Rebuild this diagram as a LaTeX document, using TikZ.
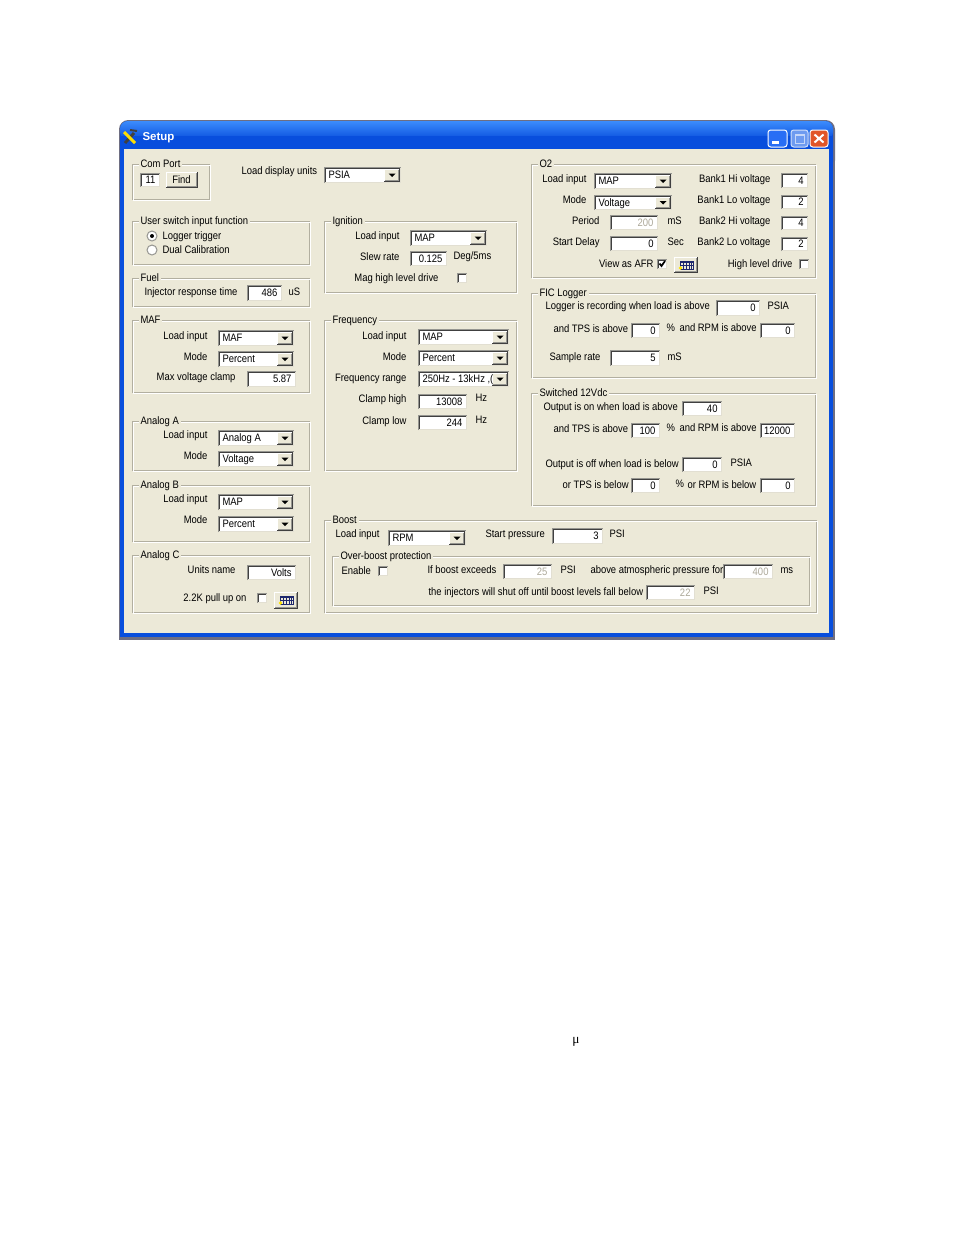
\documentclass[tikz,border=0pt]{standalone}
\usepackage{fontspec}
\setmainfont{Liberation Sans}[FakeStretch=0.875]
\newfontfamily\titlefont{Liberation Sans}
\newfontfamily\mufont{Liberation Serif}
\definecolor{cFace}{RGB}{236,233,216}
\definecolor{cShadow}{RGB}{150,150,145}
\definecolor{cDkShadow}{RGB}{64,64,64}
\definecolor{cLight}{RGB}{226,223,210}
\definecolor{cEtch}{RGB}{178,175,160}
\definecolor{cDis}{RGB}{172,168,153}
\definecolor{cBlue}{RGB}{8,78,221}
\definecolor{cBlueTop}{RGB}{60,140,252}
\definecolor{cOutline}{RGB}{110,110,130}
\definecolor{cBtn}{RGB}{40,110,245}
\definecolor{cBtnDis}{RGB}{110,155,240}
\definecolor{cClose}{RGB}{225,85,40}
\definecolor{cGridC}{RGB}{30,40,110}
\tikzset{
  lbl/.style={font=\fontsize{8.1}{9}\selectfont, inner sep=0pt, text height=5.8pt, text depth=0pt},
  grouptitle/.style={lbl, fill=cFace, inner xsep=1.5pt, inner ysep=1pt, anchor=west},
  dislbl/.style={lbl, text=cDis}
}
\newcommand{\uiSunken}[4]{%
  \fill[white] (#1,#2) rectangle (#3,#4);
  \draw[cShadow] (#1,#4) -- (#1,#2) -- (#3,#2);
  \draw[cDkShadow] (#1+1,#4-1) -- (#1+1,#2+1) -- (#3-1,#2+1);
  \draw[cLight] (#1+1,#4-1) -- (#3-1,#4-1) -- (#3-1,#2+1);
}
\newcommand{\uiRaised}[4]{%
  \fill[cFace] (#1,#2) rectangle (#3,#4);
  \draw[white] (#1,#4) -- (#1,#2) -- (#3,#2);
  \draw[cShadow] (#1+1,#4-1) -- (#3-1,#4-1) -- (#3-1,#2+1);
  \draw[cDkShadow] (#1,#4) -- (#3,#4) -- (#3,#2);
}
\newcommand{\uiText}[6]{%
  \uiSunken{#1}{#2}{#3}{#4}
  \node[lbl, anchor=east] (#6) at (#3-4,{(#2+#4)/2}) {#5};
}
\newcommand{\uiTextDis}[6]{%
  \uiSunken{#1}{#2}{#3}{#4}
  \node[dislbl, anchor=east] (#6) at (#3-4,{(#2+#4)/2}) {#5};
}
\newcommand{\uiCombo}[6]{%
  \uiSunken{#1}{#2}{#3}{#4}
  \uiRaised{#3-17}{#2+2}{#3-2}{#4-2}
  \fill[black] (#3-12.5,{(#2+#4)/2-1.5}) -- ++(7,0) -- ++(-3.5,3.5) -- cycle;
  \node[lbl, anchor=west] (#6) at (#1+4,{(#2+#4)/2}) {#5};
}
\newcommand{\uiButton}[6]{%
  \uiRaised{#1}{#2}{#3}{#4}
  \node[lbl] (#6) at ({(#1+#3)/2},{(#2+#4)/2}) {#5};
}
\newcommand{\uiCheck}[2]{%
  \uiSunken{#1}{#2}{#1+10}{#2+10}
}
\newcommand{\uiGrid}[4]{%
  \uiRaised{#1}{#2}{#3}{#4}
  \draw[cGridC, line width=0.6pt] (#1+6,#2+4) rectangle (#1+19,#2+12);
  \fill[cGridC] (#1+6,#2+4) rectangle (#1+19,#2+5.5);
  \foreach \k in {3,6,9,11} {\draw[cGridC, line width=0.6pt] (#1+6+\k,#2+4) -- (#1+6+\k,#2+12);}
  \draw[cGridC, line width=0.6pt] (#1+6,#2+8) -- (#1+19,#2+8);
  \fill[yellow!85!orange] (#1+6.5,#2+11) circle[radius=1.8];
}
\newcommand{\uiGroup}[6]{%
  \draw[cEtch] (#1,#2) rectangle (#3-1,#4-1);
  \draw[white] (#1+1,#2+1) rectangle (#3,#4);
  \node[grouptitle] (#6) at (#1+6,#2) {#5};
}
\begin{document}
\begin{tikzpicture}[x=0.75pt,y=-0.75pt,line width=0.75pt]
\useasboundingbox (0,0) rectangle (954,1235);
\fill[white] (0,0) rectangle (954,1235);
% window frame
\fill[cOutline,rounded corners=7] (119,120) rectangle (835,170);
\fill[cOutline] (119,150) rectangle (835,640);
\fill[cBlue,rounded corners=6] (120,121) rectangle (833,170);
\fill[cBlue] (120,150) rectangle (833,637);
\shade[top color=cBlueTop, bottom color=cBlue, rounded corners=6] (120,121) rectangle (833,140);
\fill[cBlue] (120,136) rectangle (833,149);
\fill[cFace] (124,149) rectangle (829,633);
% title
\draw[line width=2.2pt, cDkShadow] (125,143) -- (134,133);
\draw[line width=2.2pt, yellow!80!orange] (124,132) -- (135,143);
\draw[line width=1.5pt, cDkShadow] (130,130) -- (137,131);
\node[font={\titlefont\fontsize{8.6}{10}\selectfont\bfseries}, text=white, anchor=west, inner sep=0pt] (title) at (142,137.5) {Setup};
\draw[white, fill=cBtn, rounded corners=2] (768,130) rectangle (787,147);
\fill[white] (772,140.5) rectangle (779,143.5);
\draw[white!70!cBtnDis, fill=cBtnDis, rounded corners=2] (791,130) rectangle (808,147);
\draw[white!60!cBtnDis] (795,134) rectangle (804,143);
\draw[white!60!cBtnDis, line width=1.5pt] (795,134.5) -- (804,134.5);
\draw[white, fill=cClose, rounded corners=2] (810,130) rectangle (828,147);
\draw[white, line width=1.5pt] (814.5,134.5) -- (823.5,142.5) (823.5,134.5) -- (814.5,142.5);

% ---- left column ----
\uiGroup{132}{164}{210}{200}{Com Port}{gCom}
\uiText{140}{173}{160}{187}{11}{tCom}
\uiButton{166}{172}{197}{187}{Find}{bFind}
\node[lbl, anchor=west] (lUnits) at (241,171) {Load display units};
\uiCombo{324}{167}{401}{183}{PSIA}{cUnits}

\uiGroup{132}{221}{310}{265}{User switch input function}{gSwitch}
\fill[white] (152,236) circle[radius=5];
\draw[cShadow] (152,236) circle[radius=5];
\fill[black] (152,236) circle[radius=2];
\node[lbl, anchor=west] (rLogger) at (162,236) {Logger trigger};
\fill[white] (152,250) circle[radius=5];
\draw[cShadow] (152,250) circle[radius=5];
\node[lbl, anchor=west] (rDual) at (162,250) {Dual Calibration};

\uiGroup{132}{278}{310}{307}{Fuel}{gFuel}
\node[lbl, anchor=west] (lInj) at (144,292) {Injector response time};
\uiText{247}{285}{282}{301}{486}{tInj}
\node[lbl, anchor=west] (lInjU) at (288,292) {uS};

\uiGroup{132}{320}{310}{393}{MAF}{gMAF}
\node[lbl, anchor=east] (lMafLoad) at (208,336) {Load input};
\uiCombo{218}{330}{294}{346}{MAF}{cMafLoad}
\node[lbl, anchor=east] (lMafMode) at (208,357) {Mode};
\uiCombo{218}{351}{294}{367}{Percent}{cMafMode}
\node[lbl, anchor=east] (lMafClamp) at (236,377) {Max voltage clamp};
\uiText{247}{371}{296}{387}{5.87}{tMafClamp}

\uiGroup{132}{421}{310}{471}{Analog A}{gAA}
\node[lbl, anchor=east] (lAALoad) at (208,435) {Load input};
\uiCombo{218}{430}{294}{446}{Analog A}{cAALoad}
\node[lbl, anchor=east] (lAAMode) at (208,456) {Mode};
\uiCombo{218}{451}{294}{467}{Voltage}{cAAMode}

\uiGroup{132}{485}{310}{542}{Analog B}{gAB}
\node[lbl, anchor=east] (lABLoad) at (208,499) {Load input};
\uiCombo{218}{494}{294}{510}{MAP}{cABLoad}
\node[lbl, anchor=east] (lABMode) at (208,520) {Mode};
\uiCombo{218}{516}{294}{532}{Percent}{cABMode}

\uiGroup{132}{555}{310}{613}{Analog C}{gAC}
\node[lbl, anchor=east] (lACUnits) at (236,570) {Units name};
\uiText{247}{565}{296}{580}{Volts}{tACUnits}
\node[lbl, anchor=east] (lACPull) at (247,598) {2.2K pull up on};
\uiCheck{257}{593}
\uiGrid{274}{592}{297}{608}

% ---- middle column ----
\uiGroup{324}{221}{517}{293}{Ignition}{gIgn}
\node[lbl, anchor=east] (lIgnLoad) at (400,236) {Load input};
\uiCombo{410}{230}{487}{246}{MAP}{cIgnLoad}
\node[lbl, anchor=east] (lSlew) at (400,257) {Slew rate};
\uiText{410}{251}{447}{266}{0.125}{tSlew}
\node[lbl, anchor=west] (lSlewU) at (453,256) {Deg/5ms};
\node[lbl, anchor=east] (lMag) at (439,278) {Mag high level drive};
\uiCheck{457}{273}

\uiGroup{324}{320}{517}{471}{Frequency}{gFreq}
\node[lbl, anchor=east] (lFqLoad) at (407,336) {Load input};
\uiCombo{418}{329}{509}{345}{MAP}{cFqLoad}
\node[lbl, anchor=east] (lFqMode) at (407,357) {Mode};
\uiCombo{418}{350}{509}{366}{Percent}{cFqMode}
\node[lbl, anchor=east] (lFqRange) at (407,378) {Frequency range};
\uiCombo{418}{371}{509}{387}{250Hz - 13kHz ,(}{cFqRange}
\node[lbl, anchor=east] (lFqHigh) at (407,399) {Clamp high};
\uiText{418}{394}{467}{409}{13008}{tFqHigh}
\node[lbl, anchor=west] (lFqHighU) at (475,398) {Hz};
\node[lbl, anchor=east] (lFqLow) at (407,421) {Clamp low};
\uiText{418}{415}{467}{430}{244}{tFqLow}
\node[lbl, anchor=west] (lFqLowU) at (475,420) {Hz};

% ---- right column ----
\uiGroup{531}{164}{816}{278}{O2}{gO2}
\node[lbl, anchor=east] (lO2Load) at (587,179) {Load input};
\uiCombo{594}{173}{672}{189}{MAP}{cO2Load}
\node[lbl, anchor=east] (lO2Mode) at (587,200) {Mode};
\uiCombo{594}{195}{672}{210}{Voltage}{cO2Mode}
\node[lbl, anchor=east] (lPeriod) at (600,221) {Period};
\uiTextDis{610}{215}{658}{230}{200}{tPeriod}
\node[lbl, anchor=west] (lPeriodU) at (667,221) {mS};
\node[lbl, anchor=east] (lDelay) at (600,242) {Start Delay};
\uiText{610}{236}{658}{251}{0}{tDelay}
\node[lbl, anchor=west] (lDelayU) at (667,242) {Sec};
\node[lbl, anchor=east] (lB1H) at (771,179) {Bank1 Hi voltage};
\uiText{781}{173}{808}{188}{4}{tB1H}
\node[lbl, anchor=east] (lB1L) at (771,200) {Bank1 Lo voltage};
\uiText{781}{195}{808}{209}{2}{tB1L}
\node[lbl, anchor=east] (lB2H) at (771,221) {Bank2 Hi voltage};
\uiText{781}{216}{808}{230}{4}{tB2H}
\node[lbl, anchor=east] (lB2L) at (771,242) {Bank2 Lo voltage};
\uiText{781}{237}{808}{251}{2}{tB2L}
\node[lbl, anchor=east] (lAFR) at (654,264) {View as AFR};
\uiCheck{657}{259}
\draw[black, line width=1.3pt] (659.5,263.5) -- (661.5,266) -- (665,261);
\uiGrid{674}{257}{697}{272}
\node[lbl, anchor=east] (lHigh) at (793,264) {High level drive};
\uiCheck{799}{259}

\uiGroup{531}{293}{816}{378}{FIC Logger}{gFIC}
\node[lbl, anchor=west] (lRec) at (545,306) {Logger is recording when load is above};
\uiText{716}{300}{760}{316}{0}{tRec}
\node[lbl, anchor=west] (lRecU) at (767,306) {PSIA};
\node[lbl, anchor=west] (lFTps) at (553,329) {and TPS is above};
\uiText{631}{323}{660}{338}{0}{tFTps}
\node[lbl, anchor=west] (lFPct) at (666,328) {\%};
\node[lbl, anchor=west] (lFRpm) at (679,328) {and RPM is above};
\uiText{760}{323}{795}{338}{0}{tFRpm}
\node[lbl, anchor=west] (lSample) at (549,357) {Sample rate};
\uiText{610}{350}{660}{366}{5}{tSample}
\node[lbl, anchor=west] (lSampleU) at (667,357) {mS};

\uiGroup{531}{393}{816}{506}{Switched 12Vdc}{gSw}
\node[lbl, anchor=west] (lOn) at (543,407) {Output is on when load is above};
\uiText{682}{401}{722}{416}{40}{tOn}
\node[lbl, anchor=west] (lSTps) at (553,429) {and TPS is above};
\uiText{631}{423}{660}{438}{100}{tSTps}
\node[lbl, anchor=west] (lSPct) at (666,428) {\%};
\node[lbl, anchor=west] (lSRpm) at (679,428) {and RPM is above};
\uiText{760}{423}{795}{438}{12000}{tSRpm}
\node[lbl, anchor=west] (lOff) at (545,464) {Output is off when load is below};
\uiText{682}{457}{722}{472}{0}{tOff}
\node[lbl, anchor=west] (lOffU) at (730,463) {PSIA};
\node[lbl, anchor=west] (lOTps) at (562,485) {or TPS is below};
\uiText{631}{478}{660}{493}{0}{tOTps}
\node[lbl, anchor=west] (lOPct) at (675,484) {\%};
\node[lbl, anchor=west] (lORpm) at (687,485) {or RPM is below};
\uiText{760}{478}{795}{493}{0}{tORpm}

% ---- boost ----
\uiGroup{324}{520}{817}{613}{Boost}{gBoost}
\node[lbl, anchor=west] (lBLoad) at (335,534) {Load input};
\uiCombo{388}{530}{466}{546}{RPM}{cBLoad}
\node[lbl, anchor=west] (lStart) at (485,534) {Start pressure};
\uiText{552}{528}{603}{544}{3}{tStart}
\node[lbl, anchor=west] (lStartU) at (609,534) {PSI};
\uiGroup{332}{556}{810}{606}{Over-boost protection}{gOver}
\node[lbl, anchor=west] (lEnable) at (341,571) {Enable};
\uiCheck{378}{566}
\node[lbl, anchor=west] (lExceed) at (427,570) {If boost exceeds};
\uiTextDis{503}{564}{552}{579}{25}{tExceed}
\node[lbl, anchor=west] (lExceedU) at (560,570) {PSI};
\node[lbl, anchor=west] (lAtm) at (590,570) {above atmospheric pressure for};
\uiTextDis{723}{564}{773}{579}{400}{tAtm}
\node[lbl, anchor=west] (lAtmU) at (780,570) {ms};
\node[lbl, anchor=west] (lInjOff) at (428,592) {the injectors will shut off until boost levels fall below};
\uiTextDis{646}{585}{695}{600}{22}{tFall}
\node[lbl, anchor=west] (lFallU) at (703,591) {PSI};

% stray symbol below
\node[font={\mufont\fontsize{10}{12}\selectfont}, inner sep=0pt] (mu) at (576,1042) {μ};
\end{tikzpicture}
\end{document}
